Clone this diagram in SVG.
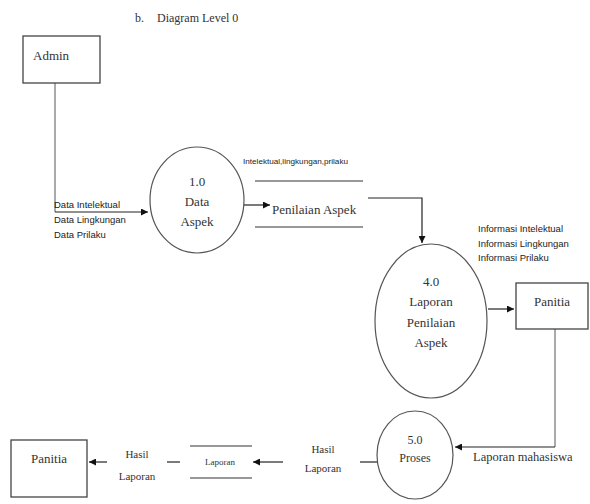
<svg xmlns="http://www.w3.org/2000/svg" width="590" height="504" viewBox="0 0 590 504">
<style>
.serif{font-family:"Liberation Serif","Times New Roman",serif;fill:#333}
.sans{font-family:"Liberation Sans",Arial,sans-serif;fill:#222}
.box{fill:#fff;stroke:#444;stroke-width:1.3}
.proc{fill:#fff;stroke:#555;stroke-width:1.2}
.ln{fill:none;stroke:#222;stroke-width:1.2}
.gray{fill:none;stroke:#aaa;stroke-width:2}
.store{stroke:#333;stroke-width:1.2}
</style>
<defs>
<marker id="ah" viewBox="0 0 10 10" refX="10" refY="5" markerWidth="7" markerHeight="7" orient="auto" markerUnits="userSpaceOnUse">
<path d="M0,0 L10,5 L0,10 z" fill="#111"/>
</marker>
</defs>
<rect width="590" height="504" fill="#fff"/>
<g id="title">
<text class="serif" x="135" y="22" font-size="12">b.</text>
<text class="serif" x="157" y="22" font-size="12">Diagram Level 0</text>
</g>
<g id="connectors">
<path class="gray" d="M55,83 V212" stroke-width="1.5"/>
<path class="ln" d="M55,212 H148" marker-end="url(#ah)"/>
<path class="ln" d="M243,205 H270" marker-end="url(#ah)"/>
<path class="ln" d="M368,198 H422 V243" marker-end="url(#ah)"/>
<path class="ln" d="M488,309 H514" marker-end="url(#ah)"/>
<path class="gray" d="M555,329 V447"/>
<path class="ln" d="M555,447 H455" marker-end="url(#ah)"/>
<path class="ln" d="M377,462 H360"/>
<path class="ln" d="M283,462 H253" marker-end="url(#ah)"/>
<path class="ln" d="M180,462 H167"/>
<path class="ln" d="M107,462 H89" marker-end="url(#ah)"/>
<text class="sans" x="54" y="208" font-size="9.5">Data Intelektual</text>
<text class="sans" x="54" y="223" font-size="9.5">Data Lingkungan</text>
<text class="sans" x="54" y="238" font-size="9.5">Data Prilaku</text>
<text class="sans" x="243" y="164" font-size="8" textLength="105" lengthAdjust="spacingAndGlyphs">Intelektual,lingkungan,prilaku</text>
<text class="sans" x="478" y="232" font-size="9.5">Informasi Intelektual</text>
<text class="sans" x="478" y="247" font-size="9.5">Informasi Lingkungan</text>
<text class="sans" x="478" y="261" font-size="9.5">Informasi Prilaku</text>
<text class="serif" x="473" y="461" font-size="12.5">Laporan mahasiswa</text>
<text class="serif" x="323" y="453" font-size="11" text-anchor="middle">Hasil</text>
<text class="serif" x="323" y="472" font-size="11" text-anchor="middle">Laporan</text>
<text class="serif" x="137" y="458" font-size="11" text-anchor="middle">Hasil</text>
<text class="serif" x="137" y="480" font-size="11" text-anchor="middle">Laporan</text>
</g>
<g id="admin">
<rect class="box" x="23" y="36" width="77" height="47"/>
<text class="serif" x="33" y="60" font-size="13">Admin</text>
</g>
<g id="p1">
<ellipse class="proc" cx="197" cy="200" rx="47" ry="53"/>
<text class="serif" x="197" y="186" font-size="13" text-anchor="middle">1.0</text>
<text class="serif" x="197" y="206" font-size="13" text-anchor="middle">Data</text>
<text class="serif" x="197" y="226" font-size="13" text-anchor="middle">Aspek</text>
</g>
<g id="store-penilaian">
<line class="store" x1="255" y1="181" x2="363" y2="181"/>
<line class="store" x1="255" y1="227" x2="363" y2="227"/>
<text class="serif" x="272" y="214" font-size="13">Penilaian Aspek</text>
</g>
<g id="p4">
<ellipse class="proc" cx="431" cy="321" rx="56" ry="77"/>
<text class="serif" x="431" y="286" font-size="13" text-anchor="middle">4.0</text>
<text class="serif" x="431" y="306" font-size="13" text-anchor="middle">Laporan</text>
<text class="serif" x="431" y="327" font-size="13" text-anchor="middle">Penilaian</text>
<text class="serif" x="431" y="347" font-size="13" text-anchor="middle">Aspek</text>
</g>
<g id="panitia1">
<rect class="box" x="516" y="283" width="72" height="46"/>
<text class="serif" x="552" y="306" font-size="13" text-anchor="middle">Panitia</text>
</g>
<g id="p5">
<ellipse class="proc" cx="415" cy="455" rx="38" ry="44"/>
<text class="serif" x="415" y="444" font-size="12" text-anchor="middle">5.0</text>
<text class="serif" x="415" y="462" font-size="12" text-anchor="middle">Proses</text>
</g>
<g id="store-laporan">
<line class="store" x1="190" y1="446" x2="252" y2="446"/>
<line class="store" x1="190" y1="478" x2="252" y2="478"/>
<text class="serif" x="220" y="465" font-size="9" text-anchor="middle">Laporan</text>
</g>
<g id="panitia2">
<rect class="box" x="11" y="440" width="76" height="57"/>
<text class="serif" x="49" y="463" font-size="13" text-anchor="middle">Panitia</text>
</g>
</svg>
